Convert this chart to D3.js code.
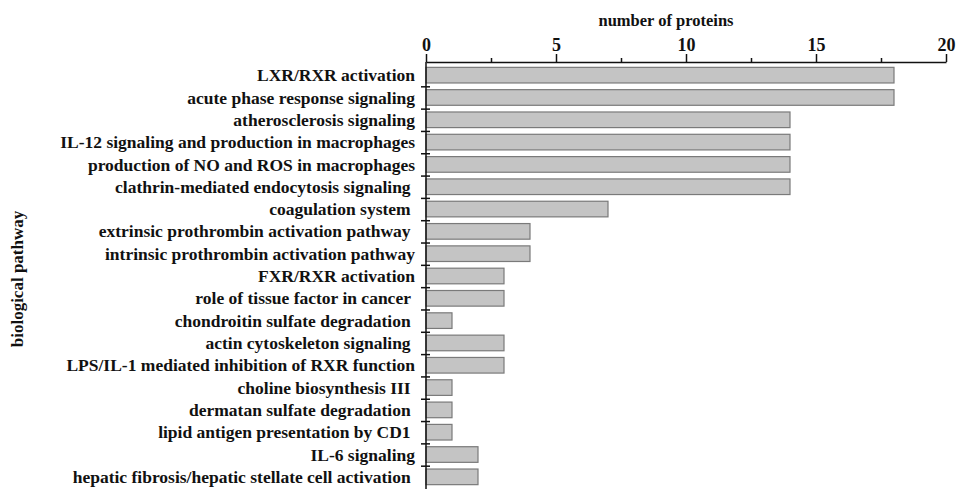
<!DOCTYPE html>
<html>
<head>
<meta charset="utf-8">
<script src="https://cdn.jsdelivr.net/npm/d3@7"></script>
<style>
  body { margin: 0; background: #fff; }
  svg text { font-family: "Liberation Serif", "Times New Roman", serif; font-weight: bold; fill: #111; }
</style>
</head>
<body>
<svg id="chart" width="960" height="489"></svg>
<script>
// Pathways and the number of proteins mapped to each
const pathways = [
  "LXR/RXR activation",
  "acute phase response signaling",
  "atherosclerosis signaling",
  "IL-12 signaling and production in macrophages",
  "production of NO and ROS in macrophages",
  "clathrin-mediated endocytosis signaling ",
  "coagulation system ",
  "extrinsic prothrombin activation pathway ",
  "intrinsic prothrombin activation pathway",
  "FXR/RXR activation",
  "role of tissue factor in cancer ",
  "chondroitin sulfate degradation ",
  "actin cytoskeleton signaling ",
  "LPS/IL-1 mediated inhibition of RXR function",
  "choline biosynthesis III ",
  "dermatan sulfate degradation ",
  "lipid antigen presentation by CD1 ",
  "IL-6 signaling",
  "hepatic fibrosis/hepatic stellate cell activation "
];
const proteinCounts = [18, 18, 14, 14, 14, 14, 7, 4, 4, 3, 3, 1, 3, 3, 1, 1, 1, 2, 2];
const majorTicks = [0, 5, 10, 15, 20];
const minorTicks = [2.5, 7.5, 12.5, 17.5];

const svg = d3.select("#chart");
const plotLeft = 426, plotRight = 946, axisY = 62, rowTop = 64, rowBottom = 488;

const x = d3.scaleLinear().domain([0, 20]).range([plotLeft, plotRight]);
const y = d3.scaleBand().domain(d3.range(pathways.length)).range([rowTop, rowBottom]).paddingInner(0.3).paddingOuter(0.15);
const yEdges = d3.scaleLinear().domain([0, pathways.length]).range([rowTop, rowBottom]);

// bars
svg.append("g").selectAll("rect")
  .data(proteinCounts)
  .join("rect")
  .attr("x", x(0))
  .attr("y", (d, i) => y(i))
  .attr("width", d => x(d) - x(0))
  .attr("height", y.bandwidth())
  .attr("fill", "#c4c4c4")
  .attr("stroke", "#7a7a7a")
  .attr("stroke-width", 1.2);

// top axis: major and minor ticks
const gx = svg.append("g").attr("transform", `translate(0,${axisY})`)
  .call(d3.axisTop(x).tickValues(majorTicks).tickSize(8).tickSizeOuter(0).tickPadding(3).tickFormat(d3.format("d")));
svg.append("g").attr("transform", `translate(0,${axisY})`)
  .call(d3.axisTop(x).tickValues(minorTicks).tickSize(4).tickSizeOuter(0).tickFormat(""))
  .select(".domain").remove();
gx.selectAll("text").attr("font-size", 18).attr("font-family", null).attr("fill", "#111");

// left axis: ticks at row boundaries, crossing the axis line
const gy = svg.append("g").attr("transform", `translate(${plotLeft},0)`)
  .call(d3.axisLeft(yEdges).tickValues(d3.range(1, pathways.length)).tickSizeOuter(0).tickFormat(""));
gy.select(".domain").attr("d", `M0,${axisY}V489`);
gy.selectAll(".tick line").attr("x1", 4).attr("x2", -5);

svg.selectAll(".domain, .tick line").attr("stroke", "#111").attr("stroke-width", 1.5);

// category labels
svg.append("g").selectAll("text")
  .data(pathways)
  .join("text")
  .attr("x", 415)
  .attr("y", (d, i) => y(i) + y.bandwidth() / 2)
  .attr("dy", "0.35em")
  .attr("text-anchor", "end")
  .attr("font-size", 17.5)
  .style("white-space", "pre")
  .text(d => d);

// axis titles
svg.append("text")
  .attr("x", 666).attr("y", 26)
  .attr("text-anchor", "middle")
  .attr("font-size", 16.5)
  .text("number of proteins");

svg.append("text")
  .attr("transform", `translate(23,279) rotate(-90)`)
  .attr("text-anchor", "middle")
  .attr("font-size", 17)
  .text("biological pathway");
</script>
</body>
</html>
